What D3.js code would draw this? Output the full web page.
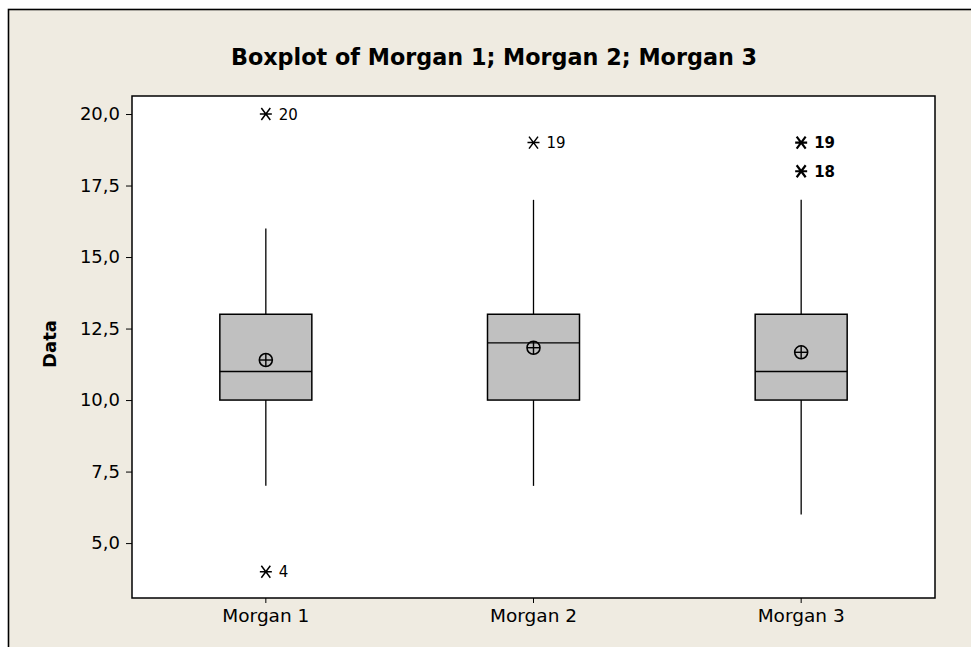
<!DOCTYPE html>
<html>
<head>
<meta charset="utf-8">
<script src="https://cdn.jsdelivr.net/npm/d3@7"></script>
<style>
  html, body { margin: 0; padding: 0; background: #ffffff; }
  svg { display: block; }
</style>
</head>
<body>
<svg id="chart" width="971" height="647"></svg>
<script>
// Summary statistics per group
const categories = ["Morgan 1", "Morgan 2", "Morgan 3"];
const q1Values = [10, 10, 10];
const medianValues = [11, 12, 11];
const q3Values = [13, 13, 13];
const whiskerLow = [7, 7, 6];
const whiskerHigh = [16, 17, 17];
const meanValues = [11.4, 11.83, 11.67];
// Outliers: group index, value, label, number of coinciding points
const outlierGroup = [0, 0, 1, 2, 2];
const outlierValue = [20, 4, 19, 19, 18];
const outlierLabel = ["20", "4", "19", "19", "18"];
const outlierCount = [1, 1, 1, 2, 2];
const yTicks = [5, 7.5, 10, 12.5, 15, 17.5, 20];

const svg = d3.select("#chart");
const W = 971, H = 647;
const plot = { left: 132, right: 935, top: 96, bottom: 598 };
const font = "DejaVu Sans, Verdana, sans-serif";

// outer panel
svg.append("rect").attr("x", 8.5).attr("y", 9.5).attr("width", W + 10).attr("height", H + 10)
  .attr("fill", "#EFEBE1").attr("stroke", "#000").attr("stroke-width", 1.6);

// title
svg.append("text").attr("x", 494).attr("y", 65).attr("text-anchor", "middle")
  .attr("font-family", font).attr("font-weight", "bold")
  .attr("font-size", 22.3).attr("fill", "#000")
  .text("Boxplot of Morgan 1; Morgan 2; Morgan 3");

const x = d3.scaleBand().domain(categories).range([plot.left, plot.right]).padding(0);
const y = d3.scaleLinear().domain([3.08, 20.63]).range([plot.bottom, plot.top]);

// plot area
svg.append("rect").attr("x", plot.left).attr("y", plot.top)
  .attr("width", plot.right - plot.left).attr("height", plot.bottom - plot.top)
  .attr("fill", "#fff").attr("stroke", "#000").attr("stroke-width", 1.5);

const fmt = v => d3.format(".1f")(v).replace(".", ",");

// y axis
const yAxis = svg.append("g").attr("transform", `translate(${plot.left},0)`)
  .call(d3.axisLeft(y).tickValues(yTicks).tickFormat(fmt).tickSize(6).tickPadding(6));
yAxis.select(".domain").remove();
yAxis.selectAll("text").attr("font-family", font).attr("font-size", 18).attr("fill", "#000");
yAxis.selectAll("line").attr("stroke", "#000");

// x axis
const xAxis = svg.append("g").attr("transform", `translate(0,${plot.bottom})`)
  .call(d3.axisBottom(x).tickSize(5).tickPadding(6));
xAxis.select(".domain").remove();
xAxis.selectAll("text").attr("font-family", font).attr("font-size", 18.5).attr("fill", "#000");
xAxis.selectAll("line").attr("stroke", "#000");

// y label
svg.append("text").attr("transform", `translate(56,${(plot.top + plot.bottom) / 2 - 3}) rotate(-90)`)
  .attr("text-anchor", "middle").attr("font-family", font)
  .attr("font-weight", "bold").attr("font-size", 18).text("Data");

const halfBox = 46;
const g = svg.append("g");
categories.forEach((c, i) => {
  const cx = x(c) + x.bandwidth() / 2;
  // whiskers
  g.append("line").attr("x1", cx).attr("x2", cx).attr("y1", y(q3Values[i])).attr("y2", y(whiskerHigh[i]))
    .attr("stroke", "#000").attr("stroke-width", 1.3);
  g.append("line").attr("x1", cx).attr("x2", cx).attr("y1", y(q1Values[i])).attr("y2", y(whiskerLow[i]))
    .attr("stroke", "#000").attr("stroke-width", 1.3);
  // box
  g.append("rect").attr("x", cx - halfBox).attr("y", y(q3Values[i]))
    .attr("width", halfBox * 2).attr("height", y(q1Values[i]) - y(q3Values[i]))
    .attr("fill", "#C0C0C0").attr("stroke", "#000").attr("stroke-width", 1.5);
  // median
  g.append("line").attr("x1", cx - halfBox).attr("x2", cx + halfBox)
    .attr("y1", y(medianValues[i])).attr("y2", y(medianValues[i]))
    .attr("stroke", "#000").attr("stroke-width", 1.4);
  // mean symbol
  const my = y(meanValues[i]);
  g.append("circle").attr("cx", cx).attr("cy", my).attr("r", 6.5)
    .attr("fill", "none").attr("stroke", "#000").attr("stroke-width", 1.6);
  g.append("line").attr("x1", cx - 6.5).attr("x2", cx + 6.5).attr("y1", my).attr("y2", my)
    .attr("stroke", "#000").attr("stroke-width", 1.4);
  g.append("line").attr("x1", cx).attr("x2", cx).attr("y1", my - 6.5).attr("y2", my + 6.5)
    .attr("stroke", "#000").attr("stroke-width", 1.4);
});

// outliers
outlierValue.forEach((v, k) => {
  const c = categories[outlierGroup[k]];
  const cx = x(c) + x.bandwidth() / 2;
  const cy = y(v);
  const sw = outlierCount[k] > 1 ? 2.2 : 1.5;
  const s = 6;
  g.append("path")
    .attr("d", `M${cx - s},${cy}H${cx + s}M${cx - s * 0.75},${cy - s}L${cx + s * 0.75},${cy + s}M${cx + s * 0.75},${cy - s}L${cx - s * 0.75},${cy + s}`)
    .attr("stroke", "#000").attr("stroke-width", sw).attr("fill", "none");
  g.append("text").attr("x", cx + 13).attr("y", cy + 5.5)
    .attr("font-family", font).attr("font-size", 15)
    .attr("font-weight", outlierCount[k] > 1 ? "bold" : "normal")
    .attr("fill", "#000").text(outlierLabel[k]);
});
</script>
</body>
</html>
